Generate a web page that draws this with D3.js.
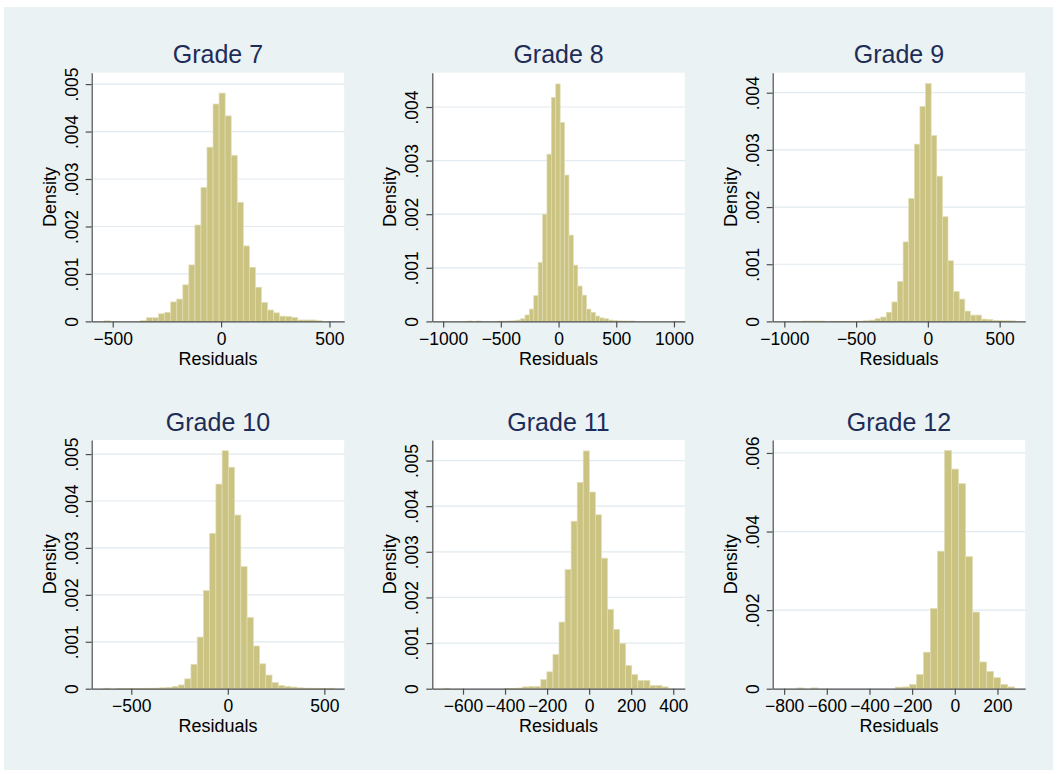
<!DOCTYPE html>
<html><head><meta charset="utf-8">
<script src="https://cdn.jsdelivr.net/npm/d3@7"></script>
<style>body{margin:0;background:#fff}</style>
</head><body><svg id="c" width="1057" height="774"></svg>
<script>
// ---------------- data ----------------
const grades = ["Grade 7", "Grade 8", "Grade 9", "Grade 10", "Grade 11", "Grade 12"];
// histogram bins: first bin lower edge and bin width (residual units)
const binStart = [-539.3, -786.2, -875.5, -643.0, -691.1, -739.2];
const binWidth = [27.9, 38.1, 39.06, 32.3, 28.83, 32.9];
// densities, one per bin
const density7 = [0.012e-3,0,0,0,0,0,0.015e-3,0.077e-3,0.077e-3,0.16e-3,0.19e-3,0.41e-3,0.47e-3,0.77e-3,1.19e-3,2.03e-3,2.82e-3,3.67e-3,4.58e-3,4.81e-3,4.33e-3,3.50e-3,2.51e-3,1.59e-3,1.14e-3,0.72e-3,0.40e-3,0.24e-3,0.18e-3,0.11e-3,0.105e-3,0.084e-3,0.03e-3,0.03e-3,0.03e-3,0.015e-3];
const density8 = [0.008e-3,0,0.008e-3,0,0,0,0,0.005e-3,0.006e-3,0.008e-3,0.012e-3,0.025e-3,0.05e-3,0.12e-3,0.23e-3,0.48e-3,1.10e-3,2.00e-3,3.12e-3,4.18e-3,4.43e-3,3.71e-3,2.73e-3,1.61e-3,1.05e-3,0.66e-3,0.49e-3,0.23e-3,0.17e-3,0.10e-3,0.065e-3,0.05e-3,0.025e-3,0.015e-3,0.01e-3,0.008e-3,0.006e-3,0.008e-3];
const density9 = [0.006e-3,0.006e-3,0.006e-3,0.006e-3,0,0.002e-3,0.002e-3,0.003e-3,0.003e-3,0.004e-3,0.006e-3,0.012e-3,0.023e-3,0.047e-3,0.076e-3,0.16e-3,0.34e-3,0.70e-3,1.39e-3,2.15e-3,3.10e-3,3.76e-3,4.16e-3,3.25e-3,2.54e-3,1.83e-3,1.06e-3,0.52e-3,0.39e-3,0.18e-3,0.11e-3,0.11e-3,0.04e-3,0.035e-3,0.017e-3,0.012e-3,0.01e-3,0.01e-3];
const density10 = [0.01e-3,0,0.003e-3,0.003e-3,0.003e-3,0.003e-3,0.006e-3,0.01e-3,0.012e-3,0.02e-3,0.03e-3,0.05e-3,0.08e-3,0.21e-3,0.52e-3,1.10e-3,2.09e-3,3.31e-3,4.36e-3,5.07e-3,4.72e-3,3.70e-3,2.60e-3,1.52e-3,0.91e-3,0.53e-3,0.29e-3,0.13e-3,0.07e-3,0.05e-3,0.035e-3,0.02e-3,0.012e-3,0.01e-3,0.008e-3,0.006e-3,0.01e-3];
const density11 = [0.01e-3,0,0,0,0,0,0,0,0,0,0.003e-3,0.005e-3,0.015e-3,0.04e-3,0.05e-3,0.05e-3,0.20e-3,0.37e-3,0.75e-3,1.46e-3,2.61e-3,3.67e-3,4.52e-3,5.21e-3,4.31e-3,3.81e-3,2.86e-3,1.74e-3,1.30e-3,0.99e-3,0.51e-3,0.31e-3,0.18e-3,0.18e-3,0.07e-3,0.07e-3,0.04e-3];
const density12 = [0.02e-3,0,0.02e-3,0,0,0,0,0,0,0,0,0,0,0,0.04e-3,0.045e-3,0.11e-3,0.36e-3,0.93e-3,2.04e-3,3.50e-3,6.06e-3,5.59e-3,5.22e-3,3.36e-3,1.95e-3,0.68e-3,0.44e-3,0.28e-3,0.11e-3,0.045e-3];
const densities = [density7, density8, density9, density10, density11, density12];
// axis ranges
const xRange = [[-597,568],[-1094,1094],[-1081,678],[-705,603],[-746,455],[-853.6,330]];
const yMax = [0.00524, 0.00464, 0.00435, 0.0053, 0.00545, 0.00633];
// tick values
const xTicks = [[-500,0,500],[-1000,-500,0,500,1000],[-1000,-500,0,500],[-500,0,500],[-600,-400,-200,0,200,400],[-800,-600,-400,-200,0,200]];
const yTicks = [[0,.001,.002,.003,.004,.005],[0,.001,.002,.003,.004],[0,.001,.002,.003,.004],[0,.001,.002,.003,.004,.005],[0,.001,.002,.003,.004,.005],[0,.002,.004,.006]];
const xTitle = "Residuals", yTitle = "Density";

// ---------------- layout ----------------
const colX = [91.7, 432.3, 772.7];
const rowY = [72.7, 440];
const PW = 252.5, PH = 248.7;
const FONT = "'Liberation Sans', Arial, Helvetica, sans-serif";

const svg = d3.select("#c");
svg.append("rect").attr("x",4).attr("y",7).attr("width",1049).attr("height",763).attr("fill","#eaf2f3");

const yFmt = d => d === 0 ? "0" : d3.format(".3f")(d).replace(/^0/, "");
const xFmt = d3.format("d");

grades.forEach((g, i) => {
  const col = i % 3, row = Math.floor(i / 3);
  const gx = svg.append("g").attr("transform", `translate(${colX[col]},${rowY[row]})`);
  const x = d3.scaleLinear().domain(xRange[i]).range([0, PW]);
  const y = d3.scaleLinear().domain([0, yMax[i]]).range([PH, 0]);

  gx.append("rect").attr("width", PW).attr("height", PH).attr("fill", "#fff");
  // grid
  gx.selectAll("line.grid").data(yTicks[i].filter(v => v > 0)).join("line")
    .attr("x1", 0).attr("x2", PW).attr("y1", d => y(d)).attr("y2", d => y(d))
    .attr("stroke", "#e1eaee").attr("stroke-width", 1.2);
  // bars
  const bins = densities[i].map((v, k) => ({x0: binStart[i] + k * binWidth[i], x1: binStart[i] + (k + 1) * binWidth[i], v}))
    .filter(b => b.v > 0);
  gx.selectAll("rect.bar").data(bins).join("rect")
    .attr("x", b => x(b.x0)).attr("width", b => x(b.x1) - x(b.x0))
    .attr("y", b => y(b.v)).attr("height", b => y(0) - y(b.v))
    .attr("fill", "#cbc382").attr("stroke", "#e2ddb4").attr("stroke-width", 0.7);

  // x axis
  const xa = gx.append("g").attr("transform", `translate(0,${PH})`)
    .call(d3.axisBottom(x).tickValues(xTicks[i]).tickFormat(xFmt).tickSize(6).tickSizeOuter(0).tickPadding(5));
  // y axis
  const ya = gx.append("g")
    .call(d3.axisLeft(y).tickValues(yTicks[i]).tickFormat(yFmt).tickSize(6).tickSizeOuter(0));
  [xa, ya].forEach(a => {
    a.select(".domain").attr("stroke", "#4d4d4d").attr("stroke-width", 1.2);
    a.selectAll(".tick line").attr("stroke", "#4d4d4d").attr("stroke-width", 1.2);
    a.selectAll("text").attr("font-family", FONT).attr("font-size", 17.5).attr("fill", "#000");
  });
  ya.selectAll(".tick text").attr("x", null).attr("dy", null)
    .attr("text-anchor", "middle").attr("transform", "translate(-14,0) rotate(-90)");

  // titles
  gx.append("text").attr("x", PW / 2).attr("y", -9.5).attr("text-anchor", "middle")
    .attr("font-family", FONT).attr("font-size", 25).attr("fill", "#1e2c58").text(g);
  gx.append("text").attr("x", PW / 2).attr("y", PH + 43.5).attr("text-anchor", "middle")
    .attr("font-family", FONT).attr("font-size", 18).attr("fill", "#000").text(xTitle);
  gx.append("text").attr("transform", `translate(-36,${PH / 2}) rotate(-90)`).attr("text-anchor", "middle")
    .attr("font-family", FONT).attr("font-size", 18).attr("fill", "#000").text(yTitle);
});
</script></body></html>
